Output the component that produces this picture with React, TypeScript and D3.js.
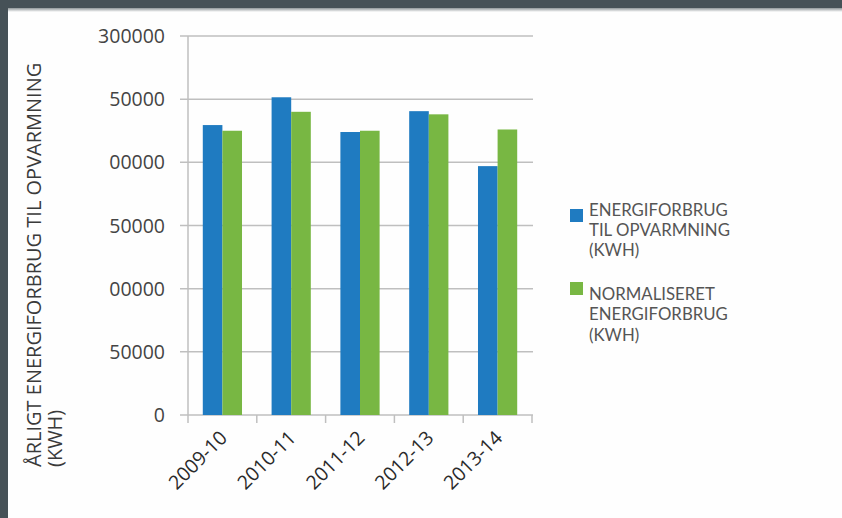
import React from "react";
import * as d3 from "d3";

const categories = ["2009-10", "2010-11", "2011-12", "2012-13", "2013-14"];
const energyValues = [229500, 251500, 224000, 240500, 197000];
const normalizedValues = [225000, 240000, 225000, 238000, 226000];
const tickValues = [0, 50000, 100000, 150000, 200000, 250000, 300000];
const tickLabels = ["0", "50000", "00000", "50000", "00000", "50000", "300000"];
const seriesNames = ["energy", "normalized"];
const legendLines = [
  ["ENERGIFORBRUG", "TIL OPVARMNING", "(KWH)"],
  ["NORMALISERET", "ENERGIFORBRUG", "(KWH)"],
];
const yTitleLines = ["ÅRLIGT ENERGIFORBRUG TIL OPVARMNING", "(KWH)"];

const W = 842;
const H = 518;
const colors = ["#1f7bc1", "#78b743"];
const FONT = "'Open Sans', 'Noto Sans', sans-serif";
const LEGEND_FONT = "Lato, 'Open Sans', sans-serif";

export default function App() {
  const plotLeft = 188;
  const plotRight = 532;
  const plotTop = 36;
  const plotBottom = 415;

  const x0 = d3
    .scaleBand<string>()
    .domain(categories)
    .range([plotLeft, plotRight])
    .paddingInner(0.43)
    .paddingOuter(0.215);
  const x1 = d3
    .scaleBand<string>()
    .domain(seriesNames)
    .range([0, x0.bandwidth()])
    .padding(0);
  const y = d3.scaleLinear().domain([0, 300000]).range([plotBottom, plotTop]);

  const step = (plotRight - plotLeft) / categories.length;
  const boundaries = d3.range(categories.length + 1).map((i) => plotLeft + i * step);
  const series = [energyValues, normalizedValues];

  return (
    <svg
      width={W}
      height={H}
      style={{ position: "absolute", left: 0, top: 0, background: "#fefefe" }}
      fontFamily={FONT}
    >
      <defs>
        <linearGradient id="shade" x1="0" y1="0" x2="0" y2="1">
          <stop offset="0" stopColor="#8f9699" />
          <stop offset="1" stopColor="#fefefe" />
        </linearGradient>
      </defs>
      <rect x={0} y={0} width={W} height={H} fill="#fefefe" />
      <rect x={8} y={8} width={W - 8} height={4} fill="url(#shade)" />
      <rect x={0} y={0} width={W} height={8} fill="#465157" />
      <rect x={0} y={0} width={8} height={H} fill="#465157" />

      {tickValues.map((t) => (
        <line
          key={"g" + t}
          x1={plotLeft - 8}
          x2={plotRight + 1}
          y1={y(t)}
          y2={y(t)}
          stroke="#bfbfbf"
          strokeWidth={1.5}
        />
      ))}
      <line x1={plotLeft} x2={plotLeft} y1={plotTop} y2={plotBottom} stroke="#bfbfbf" strokeWidth={1.5} />
      {boundaries.map((b, i) => (
        <line key={"xt" + i} x1={b} x2={b} y1={plotBottom} y2={plotBottom + 8} stroke="#bfbfbf" strokeWidth={1.5} />
      ))}

      {categories.map((c, i) => (
        <g key={c} transform={`translate(${x0(c)},0)`}>
          {seriesNames.map((s, j) => (
            <rect
              key={s}
              x={x1(s)}
              y={y(series[j][i])}
              width={x1.bandwidth()}
              height={plotBottom - y(series[j][i])}
              fill={colors[j]}
            />
          ))}
        </g>
      ))}

      {tickValues.map((t, i) => (
        <text
          key={"yl" + t}
          x={165}
          y={y(t)}
          dy="0.36em"
          textAnchor="end"
          fontSize={19.5}
          fill="#444444"
        >
          {tickLabels[i]}
        </text>
      ))}

      {categories.map((c) => {
        const cx = (x0(c) as number) + x0.bandwidth() / 2 + 6;
        const cy = plotBottom + 24;
        return (
          <text
            key={"xl" + c}
            transform={`translate(${cx},${cy}) rotate(-45)`}
            textAnchor="end"
            fontSize={19.5}
            fill="#2a2a2a"
          >
            {c}
          </text>
        );
      })}

      <text transform="translate(41,467) rotate(-90)" fontSize={20} fill="#3a3a3a">
        {yTitleLines.map((l, i) => (
          <tspan key={l} x={0} dy={i === 0 ? 0 : 20.5}>
            {l}
          </tspan>
        ))}
      </text>

      {legendLines.map((lines, i) => {
        const sqY = i === 0 ? 209 : 282;
        const textY = i === 0 ? 215.5 : 300;
        return (
          <g key={"lg" + i}>
            <rect x={570} y={sqY} width={13} height={13} fill={colors[i]} />
            <text x={589} y={textY} fontSize={16.8} fill="#555555" fontFamily={LEGEND_FONT}>
              {lines.map((l, k) => (
                <tspan key={k} x={589} dy={k === 0 ? 0 : 20.3}>
                  {l}
                </tspan>
              ))}
            </text>
          </g>
        );
      })}
    </svg>
  );
}
